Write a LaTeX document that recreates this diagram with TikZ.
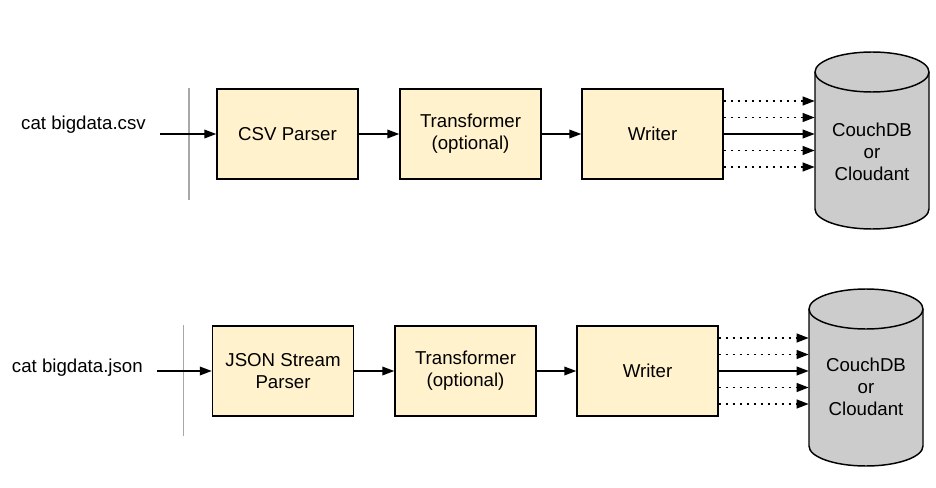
\documentclass[tikz,border=0pt]{standalone}
\usepackage{fontspec}
\setmainfont{Liberation Sans}
\usetikzlibrary{arrows.meta,calc}
\definecolor{boxfill}{HTML}{FFF2CC}
\definecolor{dbfill}{HTML}{CCCCCC}
\definecolor{sepgray}{HTML}{A8A8A8}
\tikzset{
  stagebox/.style={draw=black, fill=boxfill, line width=1.1pt, minimum width=105.75pt,
    minimum height=67.5pt, inner sep=0pt, align=center, font=\fontsize{14}{16.5}\selectfont},
  lbl/.style={inner sep=0pt, font=\fontsize{14}{16.5}\selectfont},
  dbtext/.style={inner sep=0pt, align=center, font=\fontsize{14}{16.5}\selectfont},
  dbarea/.style={inner sep=0pt, minimum width=85.5pt, minimum height=132.75pt},
  dbshape/.style={draw=black, fill=dbfill, line width=1.1pt},
  arr/.style={draw=black, line width=1.1pt, -{Triangle[length=9pt,width=6.5pt]}},
  dotarr/.style={arr, line width=1.4pt, dash pattern=on 1.4pt off 3.85pt},
  sepline/.style={draw=sepgray, line width=1.4pt},
}
\begin{document}
\begin{tikzpicture}[x=0.75pt,y=0.75pt]
\useasboundingbox (0,0) rectangle (936,487);

% ---------- top row ----------
\draw[sepline] (189,399) -- (189,287);
\node[lbl, anchor=base east] (c1) at (146,358) {cat bigdata.csv};
\coordinate (s1) at (160,353);
\node[stagebox] (p1) at (287.5,353) {CSV Parser};
\node[stagebox] (t1) at (470.5,353) {Transformer\\(optional)};
\node[stagebox] (w1) at (652.5,353) {Writer};
\draw[dbshape] (815,415) -- (815,278)
  arc[start angle=180, end angle=360, x radius=42.75pt, y radius=15pt]
  -- (929,415)
  arc[start angle=0, end angle=180, x radius=42.75pt, y radius=15pt] -- cycle;
\draw[dbshape, fill=none] (815,415) arc[start angle=180, end angle=360, x radius=42.75pt, y radius=15pt];
\node[dbarea] (db1) at (872,346.5) {};
\node[dbtext] (dt1) at (872,335) {CouchDB\\or\\Cloudant};
\draw[arr] (s1) -- (p1);
\draw[arr] (p1) -- (t1);
\draw[arr] (t1) -- (w1);
\draw[dotarr] ($(w1.east)+(0,33)$) -- ($(w1.east -| db1.west)+(0,33)$);
\draw[dotarr] ($(w1.east)+(0,16.5)$) -- ($(w1.east -| db1.west)+(0,16.5)$);
\draw[arr] (w1.east) -- (w1.east -| db1.west);
\draw[dotarr] ($(w1.east)+(0,-16.5)$) -- ($(w1.east -| db1.west)+(0,-16.5)$);
\draw[dotarr] ($(w1.east)+(0,-33)$) -- ($(w1.east -| db1.west)+(0,-33)$);

% ---------- bottom row ----------
\draw[sepline] (183.5,162) -- (183.5,51);
\node[lbl, anchor=base east] (c2) at (143,115) {cat bigdata.json};
\coordinate (s2) at (157,116);
\node[stagebox] (p2) at (283,116) {JSON Stream\\Parser};
\node[stagebox] (t2) at (465.5,116) {Transformer\\(optional)};
\node[stagebox] (w2) at (647.5,116) {Writer};
\draw[dbshape] (809,178) -- (809,41)
  arc[start angle=180, end angle=360, x radius=42.75pt, y radius=15pt]
  -- (923,178)
  arc[start angle=0, end angle=180, x radius=42.75pt, y radius=15pt] -- cycle;
\draw[dbshape, fill=none] (809,178) arc[start angle=180, end angle=360, x radius=42.75pt, y radius=15pt];
\node[dbarea] (db2) at (866,109.5) {};
\node[dbtext] (dt2) at (866,100) {CouchDB\\or\\Cloudant};
\draw[arr] (s2) -- (p2);
\draw[arr] (p2) -- (t2);
\draw[arr] (t2) -- (w2);
\draw[dotarr] ($(w2.east)+(0,33)$) -- ($(w2.east -| db2.west)+(0,33)$);
\draw[dotarr] ($(w2.east)+(0,16.5)$) -- ($(w2.east -| db2.west)+(0,16.5)$);
\draw[arr] (w2.east) -- (w2.east -| db2.west);
\draw[dotarr] ($(w2.east)+(0,-16.5)$) -- ($(w2.east -| db2.west)+(0,-16.5)$);
\draw[dotarr] ($(w2.east)+(0,-33)$) -- ($(w2.east -| db2.west)+(0,-33)$);
\end{tikzpicture}
\end{document}
